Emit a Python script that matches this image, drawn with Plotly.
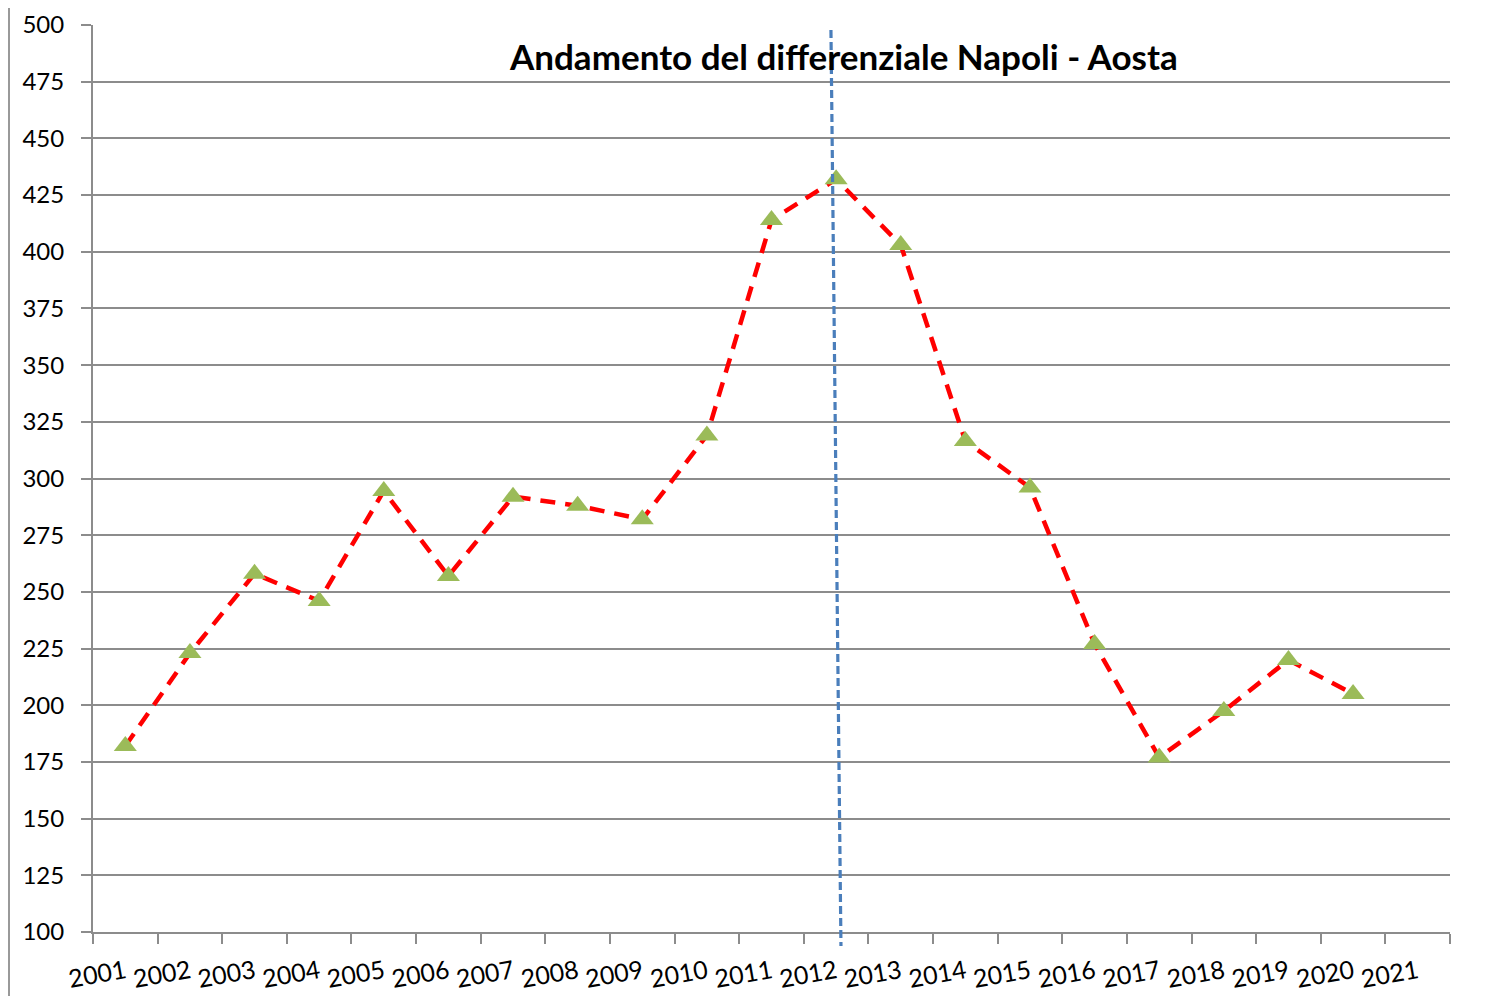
import plotly.graph_objects as go

years = [str(y) for y in range(2001, 2022)]
data_years = [str(y) for y in range(2001, 2021)]
values = [182, 223, 258, 246, 294.5, 257, 292, 288, 282, 319,
          414, 432, 403, 316.5, 296, 227, 177, 197.5, 220, 205]
y_ticks = list(range(100, 501, 25))
title_text = "Andamento del differenziale Napoli - Aosta"
marker_year = "2012"

FONT = "Lato"
GRID = "#8c8c8c"

fig = go.Figure()
fig.add_trace(go.Scatter(
    x=data_years, y=values, mode="lines+markers",
    line=dict(color="#ff0000", width=4.5, dash="15px,10px"),
    marker=dict(symbol="triangle-up", size=20, color="#9bbb59",
                line=dict(width=0)),
    showlegend=False, cliponaxis=False,
))

n = len(years)
idx = years.index(marker_year)
# slanted dashed marker line around 2012 (paper coords derived from category index)
x_top = (idx - 0.08 + 0.5) / n
x_bot = (idx + 0.075 + 0.5) / n
fig.add_shape(type="line", xref="paper", yref="paper",
              x0=x_top, y0=0.9945, x1=x_bot, y1=-0.0155,
              line=dict(color="#4a7ebb", width=3.2, dash="8px,4px"), layer="above")

# outer chart border
fig.add_shape(type="rect", xref="paper", yref="paper",
              x0=-0.0619, y0=1.0199, x1=1.2, y1=-0.2,
              line=dict(color="#999999", width=2), layer="below")

fig.add_annotation(text=title_text, xref="paper", yref="paper",
                   x=0.5527, y=0.9655, xanchor="center", yanchor="middle",
                   showarrow=False,
                   font=dict(family=FONT, size=35, color="black", weight="bold"))

fig.update_layout(
    width=1508, height=996,
    margin=dict(l=85, r=66, t=17, b=72, autoexpand=False),
    paper_bgcolor="white", plot_bgcolor="white",
    font=dict(family=FONT, size=24, color="black"),
)
fig.update_xaxes(
    type="category", categoryorder="array", categoryarray=years,
    range=[-0.5, n - 0.5], tickson="boundaries",
    tickvals=years, ticktext=years,
    showgrid=False, showline=True, linecolor=GRID, linewidth=2,
    ticks="outside", ticklen=10, tickcolor=GRID, tickwidth=2,
    tickangle=-10, tickfont=dict(family=FONT, size=25, color="black"),
    ticklabelstandoff=14,
    automargin=False, zeroline=False,
)
fig.update_yaxes(
    range=[100, 500], tickvals=y_ticks,
    showgrid=True, gridcolor=GRID, gridwidth=1.5,
    showline=True, linecolor=GRID, linewidth=2,
    ticks="outside", ticklen=10, tickcolor=GRID, tickwidth=1.5,
    tickfont=dict(family=FONT, size=24, color="black"),
    ticklabelstandoff=12, automargin=False, zeroline=False,
)

fig.write_html("out.html")
